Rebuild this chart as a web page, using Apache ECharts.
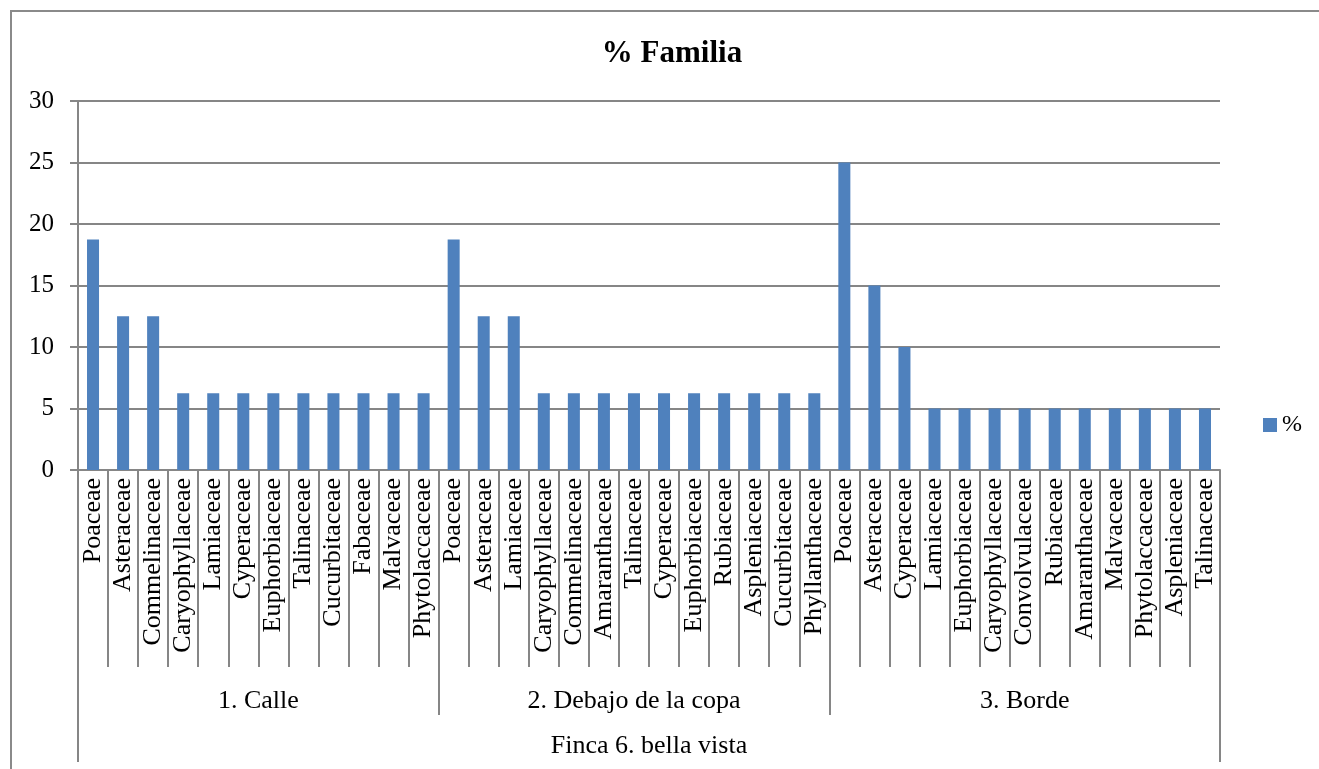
<!DOCTYPE html>
<html>
<head>
<meta charset="utf-8">
<title>% Familia</title>
<script src="https://cdn.jsdelivr.net/npm/echarts@6/dist/echarts.min.js"></script>
<style>
  html, body { margin: 0; padding: 0; background: #fff; overflow: hidden; }
  #frame {
    position: absolute; left: 10px; top: 10px; width: 1400px; height: 900px;
    border-left: 2px solid #8a8a8a; border-top: 2px solid #8a8a8a;
  }
  #chart { position: absolute; left: 0; top: 0; width: 1319px; height: 769px; }
</style>
</head>
<body>
<div id="frame"></div>
<div id="chart"></div>
<script>
// familias por zona (Finca 6. bella vista)
var groupNames = ["1. Calle", "2. Debajo de la copa", "3. Borde"];
var outerName = "Finca 6. bella vista";

var calleFam = ["Poaceae", "Asteraceae", "Commelinaceae", "Caryophyllaceae", "Lamiaceae",
  "Cyperaceae", "Euphorbiaceae", "Talinaceae", "Cucurbitaceae", "Fabaceae", "Malvaceae", "Phytolaccaceae"];
var calleVal = [18.75, 12.5, 12.5, 6.25, 6.25, 6.25, 6.25, 6.25, 6.25, 6.25, 6.25, 6.25];

var copaFam = ["Poaceae", "Asteraceae", "Lamiaceae", "Caryophyllaceae", "Commelinaceae",
  "Amaranthaceae", "Talinaceae", "Cyperaceae", "Euphorbiaceae", "Rubiaceae", "Aspleniaceae",
  "Cucurbitaceae", "Phyllanthaceae"];
var copaVal = [18.75, 12.5, 12.5, 6.25, 6.25, 6.25, 6.25, 6.25, 6.25, 6.25, 6.25, 6.25, 6.25];

var bordeFam = ["Poaceae", "Asteraceae", "Cyperaceae", "Lamiaceae", "Euphorbiaceae",
  "Caryophyllaceae", "Convolvulaceae", "Rubiaceae", "Amaranthaceae", "Malvaceae",
  "Phytolaccaceae", "Aspleniaceae", "Talinaceae"];
var bordeVal = [25, 15, 10, 5, 5, 5, 5, 5, 5, 5, 5, 5, 5];

var yTicks = [0, 5, 10, 15, 20, 25, 30];

var categories = calleFam.concat(copaFam, bordeFam);
var values = calleVal.concat(copaVal, bordeVal);
var groupSizes = [calleFam.length, copaFam.length, bordeFam.length];

// bordes y centros de los grupos, en unidades de categoria
var groupEdges = [0];
var groupCenters = [];
groupSizes.forEach(function (n, i) {
  groupCenters.push(groupEdges[i] + n / 2);
  groupEdges.push(groupEdges[i] + n);
});
var total = categories.length;

var font = "'Liberation Serif', 'Times New Roman', serif";
var gray = "#868686";
var gridPos = { left: 78, right: 99, top: 101, bottom: 299, containLabel: false, outerBoundsMode: "none" };

var myChart = echarts.init(document.getElementById("chart"));
var option = {
  animation: false,
  textStyle: { fontFamily: font },
  title: {
    text: "% Familia",
    left: 667,
    textAlign: "center",
    top: 33,
    textStyle: { fontFamily: font, fontSize: 31, fontWeight: "bold", color: "#000" }
  },
  legend: {
    left: 1258,
    top: 408,
    icon: "rect",
    itemWidth: 14,
    itemHeight: 14,
    itemGap: 6,
    data: ["%"],
    textStyle: { fontFamily: font, fontSize: 24, color: "#000" }
  },
  grid: [
    Object.assign({}, gridPos),
    Object.assign({}, gridPos),
    Object.assign({}, gridPos)
  ],
  xAxis: [
    {
      type: "category",
      gridIndex: 0,
      data: categories,
      axisLine: { show: true, lineStyle: { color: gray, width: 2 } },
      axisTick: { show: true, interval: 0, length: 197, lineStyle: { color: gray, width: 2 } },
      axisLabel: {
        interval: 0,
        rotate: 90,
        margin: 8,
        fontSize: 26,
        fontFamily: font,
        color: "#000"
      },
      splitLine: { show: false }
    },
    {
      type: "value",
      gridIndex: 1,
      min: 0,
      max: total,
      axisLine: { show: false },
      splitLine: { show: false },
      axisTick: { show: true, customValues: groupEdges, length: 245, lineStyle: { color: gray, width: 2 } },
      axisLabel: {
        customValues: groupCenters,
        margin: 218,
        fontSize: 26,
        fontFamily: font,
        color: "#000",
        formatter: function (v) {
          return groupNames[groupCenters.indexOf(v)];
        }
      }
    },
    {
      type: "value",
      gridIndex: 2,
      min: 0,
      max: total,
      axisLine: { show: false },
      splitLine: { show: false },
      axisTick: { show: true, customValues: [0, total], length: 292, lineStyle: { color: gray, width: 2 } },
      axisLabel: {
        customValues: [total / 2],
        margin: 263,
        fontSize: 26,
        fontFamily: font,
        color: "#000",
        formatter: function () {
          return outerName;
        }
      }
    }
  ],
  yAxis: [
    {
      type: "value",
      gridIndex: 0,
      min: yTicks[0],
      max: yTicks[yTicks.length - 1],
      interval: yTicks[1] - yTicks[0],
      axisLine: { show: true, lineStyle: { color: gray, width: 2 } },
      axisTick: { show: true, length: 8, lineStyle: { color: gray, width: 2 } },
      axisLabel: { margin: 24, fontSize: 25, fontFamily: font, color: "#000" },
      splitLine: { show: true, lineStyle: { color: gray, width: 2 } }
    },
    { type: "value", gridIndex: 1, show: false, min: 0, max: 1 },
    { type: "value", gridIndex: 2, show: false, min: 0, max: 1 }
  ],
  series: [
    {
      name: "%",
      type: "bar",
      xAxisIndex: 0,
      yAxisIndex: 0,
      barCategoryGap: "60%",
      itemStyle: { color: "#4F81BD" },
      data: values
    }
  ]
};
myChart.setOption(option);
</script>
</body>
</html>
